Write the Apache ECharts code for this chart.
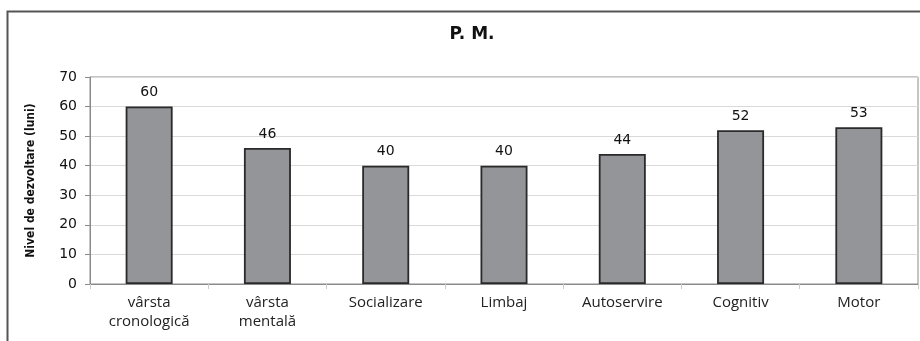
<!DOCTYPE html>
<html>
<head>
<meta charset="utf-8">
<script src="https://cdn.jsdelivr.net/npm/echarts@6/dist/echarts.min.js"></script>
<style>
  html, body { margin: 0; padding: 0; background: #fff; }
  #main { width: 920px; height: 341px; }
</style>
</head>
<body>
<div id="main"></div>
<script>
var categories = ['vârsta\ncronologică', 'vârsta\nmentală', 'Socializare', 'Limbaj', 'Autoservire', 'Cognitiv', 'Motor'];
var values = [60, 46, 40, 40, 44, 52, 53];
var yTicks = [0, 10, 20, 30, 40, 50, 60, 70];

var chart = echarts.init(document.getElementById('main'));

chart.setOption({
    animation: false,
    title: {
        text: 'P. M.',
        left: 467,
        top: 21,
        textAlign: 'center',
        textStyle: { fontFamily: 'DejaVu Sans', fontWeight: 'bold', fontSize: 17, color: '#111' }
    },
    graphic: [{
        type: 'rect',
        shape: { x: 7.5, y: 11.5, width: 930, height: 340 },
        style: { fill: 'none', stroke: '#555', lineWidth: 2 }
    }],
    grid: { left: 90, right: 2, top: 77, bottom: 57, show: true, borderColor: '#8a8a8a', borderWidth: 1 },
    xAxis: {
        type: 'category',
        data: categories,
        axisLine: { lineStyle: { color: '#8a8a8a' } },
        axisTick: { show: true, length: 5, lineStyle: { color: '#ccc' } },
        axisLabel: { fontFamily: 'Open Sans', fontSize: 15, color: '#222', margin: 9, lineHeight: 19 }
    },
    yAxis: {
        type: 'value',
        min: yTicks[0],
        max: yTicks[yTicks.length - 1],
        interval: 10,
        name: 'Nivel de dezvoltare (luni)',
        nameLocation: 'middle',
        nameGap: 53,
        nameTextStyle: { fontFamily: 'DejaVu Sans Condensed', fontWeight: 'bold', fontSize: 12, color: '#111' },
        axisLine: { show: true, lineStyle: { color: '#8a8a8a' } },
        axisTick: { show: true, length: 5, lineStyle: { color: '#8a8a8a' } },
        axisLabel: { fontFamily: 'DejaVu Sans', fontSize: 14, color: '#111', margin: 13 },
        splitLine: { lineStyle: { color: '#d9d9d9' } }
    },
    series: [{
        type: 'bar',
        data: values,
        barWidth: 47,
        itemStyle: { color: '#939598', borderColor: '#2a2a2a', borderWidth: 1.8 },
        label: {
            show: true,
            position: 'top',
            distance: 7,
            fontFamily: 'DejaVu Sans',
            fontSize: 14,
            color: '#111'
        }
    }]
});
</script>
</body>
</html>
